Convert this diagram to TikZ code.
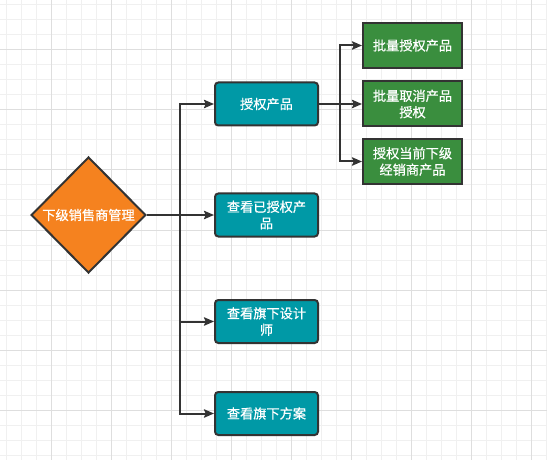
\documentclass[tikz,border=0pt]{standalone}
\usepackage{fontspec}
\setmainfont{Noto Sans CJK SC}[FakeBold=0.6]
\usetikzlibrary{shapes.geometric,arrows.meta}
\definecolor{mgrorange}{HTML}{F5821F}
\definecolor{tealbox}{HTML}{0099A6}
\definecolor{greenbox}{HTML}{3A8E3E}
\definecolor{edgegray}{HTML}{333333}
\definecolor{gridminor}{HTML}{F0F0F0}
\definecolor{gridmajor}{HTML}{DEDEDE}

\begin{document}
\begin{tikzpicture}[x=0.75pt, y=-0.75pt,
  every node/.style={text=white, align=center, inner sep=0pt,
    font=\fontsize{9.9pt}{12.3pt}\selectfont},
  tealnode/.style={rectangle, rounded corners=2.5pt, draw=edgegray, line width=1.5pt,
    fill=tealbox, minimum width=77.25pt, minimum height=32.25pt},
  greennode/.style={rectangle, draw=edgegray, line width=1.5pt,
    fill=greenbox, minimum width=74.25pt, minimum height=33.75pt},
  link/.style={draw=edgegray, line width=1.5pt,
    -{Stealth[length=7.5pt, width=6.3pt, inset=1.2pt]}}]

\useasboundingbox (0,0) rectangle (547,460);
\fill[white] (0,0) rectangle (547,460);
% background grid
\foreach \x in {6,21,...,546} \draw[gridminor, line width=0.75pt] (\x,0) -- (\x,460);
\foreach \y in {5,20,...,459} \draw[gridminor, line width=0.75pt] (0,\y) -- (547,\y);
\foreach \x in {51,111,...,546} \draw[gridmajor, line width=0.75pt] (\x,0) -- (\x,460);
\foreach \y in {50,110,...,459} \draw[gridmajor, line width=0.75pt] (0,\y) -- (547,\y);

\node[diamond, draw=edgegray, line width=1.5pt, fill=mgrorange,
  minimum width=86pt, minimum height=87pt] (m) at (88.5,215) {下级销售商管理};

\node[tealnode] (a1) at (266.5,104) {授权产品};
\node[tealnode] (a2) at (266.5,215) {查看已授权产\\品};
\node[tealnode] (a3) at (266.5,321.5) {查看旗下设计\\师};
\node[tealnode] (a4) at (266.5,413.5) {查看旗下方案};

\node[greennode] (b1) at (412.5,45.5) {批量授权产品};
\node[greennode] (b2) at (412.5,104) {批量取消产品\\授权};
\node[greennode] (b3) at (412.5,161.5) {授权当前下级\\经销商产品};

\coordinate (s1) at (180,215);
\coordinate (s2) at (340,104);

\draw[link] (m.east) -- (s1) |- (a1.west);
\draw[link] (m.east) -- (a2.west);
\draw[link] (m.east) -- (s1) |- (a3.west);
\draw[link] (m.east) -- (s1) |- (a4.west);

\draw[link] (a1.east) -- (s2) |- (b1.west);
\draw[link] (a1.east) -- (b2.west);
\draw[link] (a1.east) -- (s2) |- (b3.west);

\end{tikzpicture}
\end{document}
